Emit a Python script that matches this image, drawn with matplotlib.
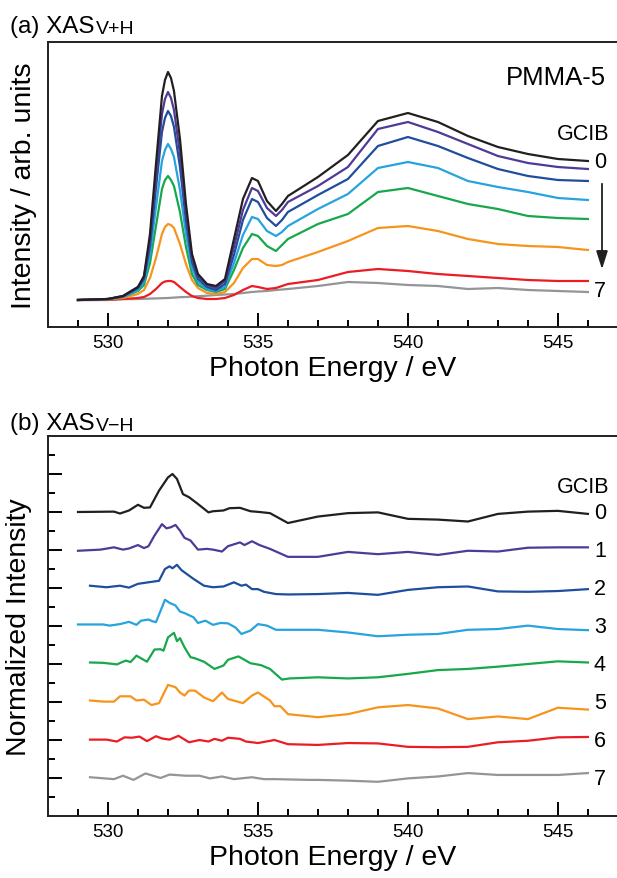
import numpy as np
import matplotlib
matplotlib.use("Agg")
import matplotlib.pyplot as plt

plt.rcParams['font.family'] = ['Liberation Sans', 'DejaVu Sans']

# ---- (a) XAS V+H, PMMA-5, GCIB 0..7
E_a = [529.0, 529.5, 530.0, 530.5, 531.0, 531.2, 531.4, 531.6, 531.8, 531.9, 532.0, 532.1, 532.2,
       532.4, 532.6, 532.8, 533.0, 533.3, 533.6, 533.9, 534.2, 534.5, 534.8, 535.0, 535.3, 535.6,
       535.8, 536.0, 537, 538, 539, 540, 541, 542, 543, 544, 545, 546]
a0 = [0, 0.005, 0.01, 0.04, 0.13, 0.24, 0.66, 1.36, 2.04, 2.20, 2.28, 2.22, 2.09, 1.61, 0.96, 0.46,
      0.26, 0.16, 0.14, 0.21, 0.61, 1.01, 1.22, 1.19, 0.99, 0.89, 0.96, 1.04, 1.23, 1.45, 1.79, 1.87,
      1.78, 1.64, 1.53, 1.46, 1.41, 1.39]
a1 = [0, 0.005, 0.01, 0.04, 0.13, 0.23, 0.60, 1.24, 1.86, 2.01, 2.08, 2.02, 1.90, 1.46, 0.87, 0.42,
      0.24, 0.15, 0.12, 0.19, 0.53, 0.90, 1.12, 1.09, 0.92, 0.84, 0.90, 0.98, 1.14, 1.33, 1.71, 1.78,
      1.68, 1.56, 1.44, 1.37, 1.33, 1.31]
a2 = [0, 0.005, 0.01, 0.035, 0.12, 0.21, 0.54, 1.12, 1.68, 1.82, 1.89, 1.84, 1.73, 1.33, 0.79, 0.38,
      0.21, 0.13, 0.10, 0.16, 0.45, 0.80, 1.01, 0.98, 0.82, 0.74, 0.80, 0.88, 1.05, 1.21, 1.54, 1.63,
      1.54, 1.42, 1.31, 1.24, 1.20, 1.19]
a3 = [0, 0.005, 0.01, 0.03, 0.10, 0.18, 0.45, 0.93, 1.39, 1.50, 1.56, 1.51, 1.43, 1.10, 0.66, 0.32,
      0.18, 0.11, 0.09, 0.13, 0.37, 0.65, 0.83, 0.81, 0.69, 0.64, 0.68, 0.74, 0.91, 1.06, 1.32, 1.38,
      1.32, 1.19, 1.13, 1.08, 1.02, 1.00]
a4 = [0, 0.005, 0.01, 0.03, 0.09, 0.15, 0.37, 0.74, 1.11, 1.20, 1.24, 1.20, 1.14, 0.88, 0.53, 0.26,
      0.15, 0.10, 0.08, 0.11, 0.30, 0.52, 0.66, 0.64, 0.54, 0.49, 0.55, 0.61, 0.76, 0.86, 1.08, 1.12,
      1.04, 0.96, 0.91, 0.84, 0.82, 0.81]
a5 = [0, 0, 0.005, 0.02, 0.06, 0.10, 0.22, 0.42, 0.66, 0.73, 0.76, 0.75, 0.72, 0.56, 0.36, 0.20,
      0.12, 0.07, 0.06, 0.08, 0.17, 0.32, 0.41, 0.41, 0.35, 0.34, 0.35, 0.38, 0.48, 0.59, 0.72, 0.74,
      0.69, 0.61, 0.56, 0.54, 0.53, 0.50]
a6 = [0, 0, 0, 0.01, 0.02, 0.03, 0.06, 0.11, 0.17, 0.185, 0.19, 0.19, 0.18, 0.13, 0.08, 0.04,
      0.02, 0.01, 0.01, 0.02, 0.05, 0.10, 0.14, 0.13, 0.11, 0.12, 0.14, 0.16, 0.20, 0.28, 0.31, 0.29,
      0.26, 0.24, 0.22, 0.20, 0.19, 0.19]
a7 = [0, 0.002, 0.005, 0.008, 0.01, 0.012, 0.014, 0.016, 0.018, 0.019, 0.02, 0.022, 0.024, 0.028,
      0.03, 0.034, 0.038, 0.043, 0.05, 0.055, 0.06, 0.07, 0.08, 0.085, 0.09, 0.10, 0.105, 0.11, 0.14,
      0.18, 0.17, 0.15, 0.14, 0.11, 0.12, 0.10, 0.09, 0.08]

# ---- (b) XAS V-H, each curve has its own energy points
Eb0 = [529.0, 530.2, 530.4, 530.7, 531.0, 531.1, 531.2, 531.4, 531.7, 532.0, 532.15, 532.3, 532.5,
       532.7, 533.0, 533.35, 533.5, 533.85, 534.05, 534.4, 534.75, 535.05, 535.4, 536.0,
       537, 538, 539, 540, 541, 542, 543, 544, 545, 546]
b0 = [0, 0.01, -0.04, 0.04, 0.19, 0.15, 0.11, 0.12, 0.56, 0.91, 1.0, 0.87, 0.47, 0.39, 0.21, -0.01,
      0.02, 0.04, 0.10, 0.11, 0.02, 0.0, -0.03, -0.29, -0.12, -0.03, -0.01, -0.18, -0.20, -0.25,
      -0.05, 0.01, 0.03, -0.05]
Eb1 = [529.0, 529.75, 530.2, 530.5, 530.7, 531.0, 531.2, 531.35, 531.55, 531.8, 531.95, 532.1,
       532.25, 532.4, 532.55, 532.75, 533.0, 533.3, 533.5, 533.8, 534.0, 534.4, 534.55, 534.8,
       535.05, 535.4, 536.0, 537, 538, 539, 540, 541, 542, 543, 544, 545, 546]
b1 = [-0.02, 0.01, 0.07, 0.01, 0.04, 0.13, 0.05, 0.10, 0.38, 0.68, 0.57, 0.60, 0.66, 0.51, 0.32,
      0.25, 0.01, 0.03, 0.01, -0.04, 0.10, 0.20, 0.13, 0.23, 0.13, 0.03, -0.18, -0.18, -0.05, -0.11,
      -0.05, -0.13, -0.02, -0.04, 0.06, 0.07, 0.07]
Eb2 = [529.4, 529.95, 530.4, 530.7, 531.0, 531.7, 531.9, 532.05, 532.15, 532.3, 532.45, 532.85,
       533.2, 533.5, 533.85, 534.2, 534.45, 534.6, 534.8, 535.0, 535.2, 535.6, 536.0,
       537, 538, 539, 540, 541, 542, 543, 544, 545, 546]
b2 = [0.06, 0.02, 0.06, 0.01, 0.11, 0.19, 0.50, 0.57, 0.52, 0.61, 0.47, 0.24, 0.06, 0.02, 0.04,
      0.15, 0.06, 0.09, -0.03, -0.03, -0.10, -0.16, -0.17, -0.16, -0.13, -0.18, -0.05, 0.02, 0.04,
      -0.09, -0.10, -0.08, -0.03]
Eb3 = [529.0, 529.85, 530.05, 530.4, 530.7, 530.95, 531.1, 531.35, 531.5, 531.6, 531.9, 532.05,
       532.25, 532.4, 532.55, 532.85, 533.0, 533.25, 533.5, 533.75, 534.0, 534.25, 534.45, 534.75,
       535.0, 535.3, 535.6, 536.0, 537, 538, 539, 540, 541, 542, 543, 544, 545, 546]
b3 = [0.04, 0.04, 0.01, 0.05, 0.11, 0.03, 0.14, 0.17, 0.12, 0.10, 0.69, 0.61, 0.54, 0.38, 0.34,
      0.23, 0.08, 0.14, 0.03, 0.08, 0.07, -0.04, -0.21, -0.12, 0.05, 0.01, -0.10, -0.10, -0.10,
      -0.17, -0.27, -0.23, -0.21, -0.10, -0.08, 0.01, -0.08, -0.11]
Eb4 = [529.4, 529.85, 530.3, 530.5, 530.6, 530.75, 530.95, 531.1, 531.3, 531.55, 531.75, 531.85,
       532.0, 532.2, 532.3, 532.4, 532.55, 532.75, 532.9, 533.2, 533.55, 533.85, 534.0, 534.35,
       534.75, 535.1, 535.4, 535.8, 536.05, 537, 538, 539, 540, 541, 542, 543, 544, 545, 546]
b4 = [0.04, 0.03, -0.01, 0.06, 0.09, 0.05, 0.22, 0.15, 0.06, 0.38, 0.39, 0.35, 0.70, 0.82, 0.60,
      0.68, 0.44, 0.18, 0.15, 0.06, -0.13, -0.04, 0.11, 0.20, 0.02, -0.03, -0.13, -0.41, -0.38,
      -0.35, -0.38, -0.35, -0.26, -0.16, -0.13, -0.07, 0.0, 0.07, 0.04]
Eb5 = [529.4, 529.85, 530.2, 530.4, 530.75, 530.95, 531.2, 531.45, 531.7, 531.85, 532.0, 532.25,
       532.4, 532.55, 532.7, 532.9, 533.2, 533.5, 533.8, 534.0, 534.5, 534.8, 535.0, 535.4,
       535.55, 535.75, 536.0, 537, 538, 539, 540, 541, 542, 543, 544, 545, 546]
b5 = [0.04, 0.01, 0.01, 0.15, 0.15, 0.04, 0.06, -0.08, -0.03, 0.21, 0.45, 0.39, 0.25, 0.17, 0.30,
      0.30, 0.12, 0.02, 0.25, 0.08, -0.03, 0.17, 0.25, 0.04, -0.11, -0.11, -0.32, -0.40, -0.32,
      -0.14, -0.08, -0.17, -0.45, -0.38, -0.45, -0.15, -0.20]
Eb6 = [529.4, 529.95, 530.3, 530.55, 530.8, 531.05, 531.3, 531.6, 531.8, 532.05, 532.35, 532.7,
       533.05, 533.35, 533.55, 533.8, 534.0, 534.4, 534.6, 535.0, 535.55, 536.0,
       537, 538, 539, 540, 541, 542, 543, 544, 545, 546]
b6 = [0.01, 0.01, -0.04, 0.07, 0.06, 0.09, -0.03, 0.10, 0.04, 0.01, 0.11, -0.06, 0.0, -0.04, 0.03,
      -0.02, 0.06, 0.03, -0.04, -0.08, 0.0, -0.11, -0.13, -0.08, -0.09, -0.18, -0.19, -0.18, -0.06,
      -0.02, 0.07, 0.08]
Eb7 = [529.4, 530.2, 530.5, 530.85, 531.25, 531.75, 532.05, 532.6, 533.05, 533.4, 533.8, 534.2,
       534.8, 535.2, 535.6, 536.7, 537, 538, 539, 540, 541, 542, 543, 544, 545, 546]
b7 = [0.02, -0.03, 0.06, -0.05, 0.12, 0.0, 0.09, 0.06, 0.06, -0.01, 0.04, -0.03, 0.02, -0.03,
      -0.03, -0.05, -0.05, -0.07, -0.10, -0.01, 0.04, 0.13, 0.08, 0.08, 0.08, 0.13]

gcib = ['0', '1', '2', '3', '4', '5', '6', '7']
colors = ['#231f20', '#4f3a98', '#1f4e9c', '#27a3dd', '#17a84b', '#f7941d', '#ec1c24', '#939598']

curves_a = [a0, a1, a2, a3, a4, a5, a6, a7]
curves_b = [(Eb0, b0), (Eb1, b1), (Eb2, b2), (Eb3, b3), (Eb4, b4), (Eb5, b5), (Eb6, b6), (Eb7, b7)]

W, H = 617, 879
fig = plt.figure(figsize=(W / 100, H / 100), dpi=100)


def px_ax(l, t, r, b):
    return fig.add_axes([l / W, 1 - b / H, (r - l) / W, (b - t) / H])


def style_x(ax):
    ax.set_xlim(528, 546.97)
    ax.set_xticks([530, 535, 540, 545])
    ax.set_xticks(np.arange(529, 547, 1), minor=True)
    ax.tick_params(axis='x', which='major', direction='in', length=10, width=1.4, labelsize=13.5, pad=5)
    ax.tick_params(axis='x', which='minor', direction='in', length=5, width=1.4)
    ax.set_xlabel('Photon Energy / eV', fontsize=20.5, labelpad=3)
    ax.spines['right'].set_visible(False)
    for s in ['left', 'top', 'bottom']:
        ax.spines[s].set_linewidth(1.4)
        ax.spines[s].set_color('#231f20')


def title(y, main, sub):
    # main label then a smaller subscript right after it
    t = fig.text(10 / W, 1 - y / H, main, fontsize=17.5, ha='left', va='baseline')
    r = fig.canvas.get_renderer()
    x1 = t.get_window_extent(renderer=r).x1
    fig.text(x1 / W + 1 / W, 1 - (y + 1) / H, sub, fontsize=14, ha='left', va='baseline')


# panel a
ax1 = px_ax(48, 43, 617, 328)
for k in range(8)[::-1]:
    ax1.plot(E_a, curves_a[k], color=colors[k], lw=1.6)
style_x(ax1)
ax1.set_ylim(-0.27, 2.58)
ax1.set_yticks([])
ax1.set_ylabel('Intensity / arb. units', fontsize=20.5, labelpad=8)
ax1.text(546.6, 2.23, 'PMMA-5', fontsize=18.5, ha='right', va='center')
ax1.text(546.7, 1.66, 'GCIB', fontsize=15.5, ha='right', va='center')
ax1.text(546.2, 1.38, '0', fontsize=15.5, ha='left', va='center')
ax1.text(546.2, 0.09, '7', fontsize=15.5, ha='left', va='center')
ax1.annotate('', xy=(546.47, 0.28), xytext=(546.47, 1.19),
             arrowprops=dict(arrowstyle='-|>,head_length=1.1,head_width=0.35', color='#231f20', lw=1.3))

# panel b
ax2 = px_ax(48, 437, 617, 817)
for k in range(8)[::-1]:
    e, v = curves_b[k]
    ax2.plot(e, np.array(v) + (7 - k), color=colors[k], lw=1.6)
    ax2.text(546.2, 7 - k - 0.02, gcib[k], fontsize=15.5, ha='left', va='center')
style_x(ax2)
ax2.set_ylim(-1, 9)
ax2.set_yticks(np.arange(0, 9, 1))
ax2.set_yticks(np.arange(-0.5, 9, 0.5), minor=True)
ax2.tick_params(axis='y', which='major', direction='in', length=10, width=1.4, labelleft=False)
ax2.tick_params(axis='y', which='minor', direction='in', length=5, width=1.4)
ax2.set_ylabel('Normalized Intensity', fontsize=20.5, labelpad=8)
ax2.text(546.7, 7.66, 'GCIB', fontsize=15.5, ha='right', va='center')

title(33, '(a) XAS', 'V+H')
title(430, '(b) XAS', 'V\u2212H')

fig.savefig('out.png', dpi=100)
